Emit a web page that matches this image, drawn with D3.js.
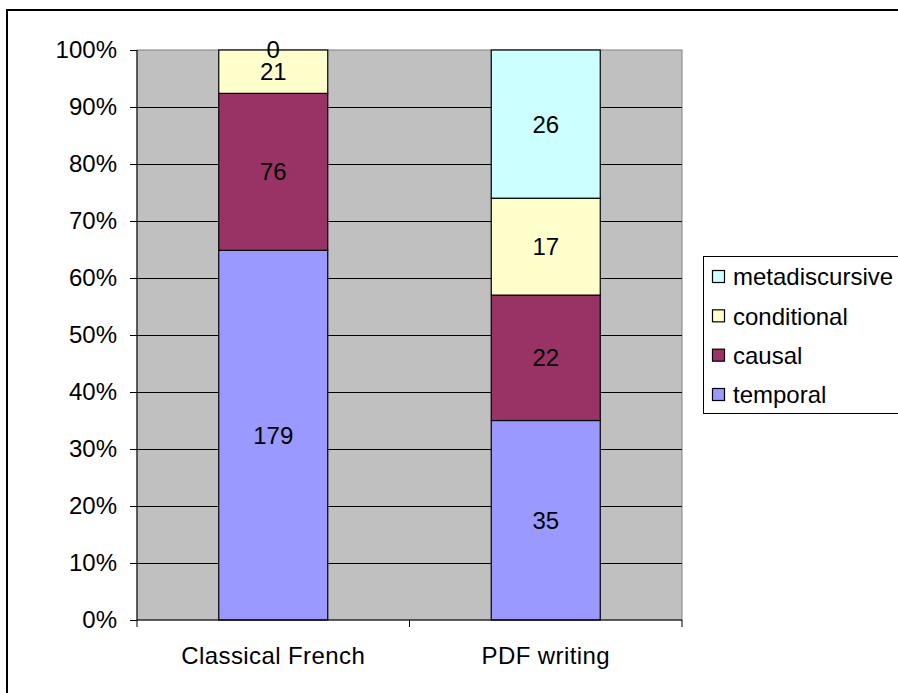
<!DOCTYPE html>
<html><head><meta charset="utf-8">
<script src="https://cdn.jsdelivr.net/npm/d3@7"></script>
<style>body{margin:0;background:#fff}svg{display:block}text{font-family:"Liberation Sans",Arial,sans-serif}</style>
</head><body><svg id="c" width="898" height="693"></svg>
<script>
const categories = ["Classical French", "PDF writing"];
const seriesNames = ["temporal", "causal", "conditional", "metadiscursive"];
const temporal = [179, 35];
const causal = [76, 22];
const conditional = [21, 17];
const metadiscursive = [0, 26];
const yTicks = [0, 0.1, 0.2, 0.3, 0.4, 0.5, 0.6, 0.7, 0.8, 0.9, 1.0];
const colors = {temporal:"#9999FF", causal:"#993366", conditional:"#FFFFCC", metadiscursive:"#CCFFFF"};

const seriesVals = {temporal, causal, conditional, metadiscursive};
const rows = categories.map((c,i)=>{const r={cat:c}; seriesNames.forEach(s=>r[s]=seriesVals[s][i]); return r;});
const stacked = d3.stack().keys(seriesNames).offset(d3.stackOffsetExpand)(rows);

const svg = d3.select("#c");
const FS = 24;
const L=137,R=682,T=50,B=620;
svg.append("rect").attr("x",7).attr("y",10).attr("width",1000).attr("height",1000).attr("fill","none").attr("stroke","#000").attr("stroke-width",2);

const x = d3.scaleBand().domain(categories).range([L,R]).paddingInner(0.6).paddingOuter(0.3);
const band = (R-L)/categories.length;
const y = d3.scaleLinear().domain([0,1]).range([B,T]);

svg.append("rect").attr("x",L).attr("y",T).attr("width",R-L).attr("height",B-T).attr("fill","#C0C0C0").attr("stroke","#808080").attr("stroke-width",1);

// gridlines
svg.append("g").selectAll("line").data(yTicks.filter(t=>t>0&&t<1)).join("line")
  .attr("x1",L).attr("x2",R).attr("y1",d=>Math.round(y(d))+0.5).attr("y2",d=>Math.round(y(d))+0.5)
  .attr("stroke","#000").attr("stroke-width",1);

// bars
const g = svg.append("g");
stacked.forEach(s=>{
  g.selectAll(null).data(s).join("rect")
    .attr("x",d=>x(d.data.cat)).attr("width",x.bandwidth())
    .attr("y",d=>y(d[1])).attr("height",d=>y(d[0])-y(d[1]))
    .attr("fill",colors[s.key]).attr("stroke","#000").attr("stroke-width",1.2);
});
stacked.forEach(s=>{
  g.selectAll(null).data(s).join("text")
    .attr("x",d=>x(d.data.cat)+x.bandwidth()/2)
    .attr("y",d=>(y(d[0])+y(d[1]))/2)
    .attr("dy","0.35em").attr("text-anchor","middle").attr("font-size",FS).attr("fill","#000")
    .text(d=>d.data[s.key]);
});

// y axis
const yAxis = d3.axisLeft(y).tickValues(yTicks).tickFormat(d3.format(".0%")).tickSize(7).tickPadding(13);
const ya = svg.append("g").attr("transform",`translate(${L},0)`).call(yAxis);
ya.select(".domain").attr("stroke","#000").attr("d",`M0,${T}V${B}`);
ya.selectAll("text").attr("font-size",FS).attr("font-family","Liberation Sans, Arial, sans-serif").attr("fill","#000");
ya.selectAll("line").attr("stroke","#000");

// x axis
const xa = svg.append("g").attr("transform",`translate(0,${B})`);
xa.append("line").attr("x1",L).attr("x2",R).attr("y1",0).attr("y2",0).attr("stroke","#000");
xa.selectAll("line.t").data(d3.range(categories.length+1)).join("line").attr("class","t")
  .attr("x1",i=>L+i*band).attr("x2",i=>L+i*band).attr("y1",0).attr("y2",7).attr("stroke","#000");
xa.selectAll("text").data(categories).join("text")
  .attr("x",d=>x(d)+x.bandwidth()/2).attr("y",44).attr("text-anchor","middle").attr("font-size",FS).attr("letter-spacing",0.4).attr("fill","#000").text(d=>d);

// legend
const lg = svg.append("g");
lg.append("rect").attr("x",703.5).attr("y",256.5).attr("width",300).attr("height",157).attr("fill","#fff").attr("stroke","#000").attr("stroke-width",1);
const legOrder = seriesNames.slice().reverse();
const ly = d3.scalePoint().domain(legOrder).range([277,395]);
lg.selectAll("rect.sw").data(legOrder).join("rect").attr("class","sw")
  .attr("x",712.5).attr("y",d=>ly(d)-6.5).attr("width",12).attr("height",12)
  .attr("fill",d=>colors[d]).attr("stroke","#000").attr("stroke-width",1.2);
lg.selectAll("text").data(legOrder).join("text")
  .attr("x",733).attr("y",d=>ly(d)).attr("dy","0.35em").attr("font-size",FS).attr("fill","#000").text(d=>d);
</script></body></html>
